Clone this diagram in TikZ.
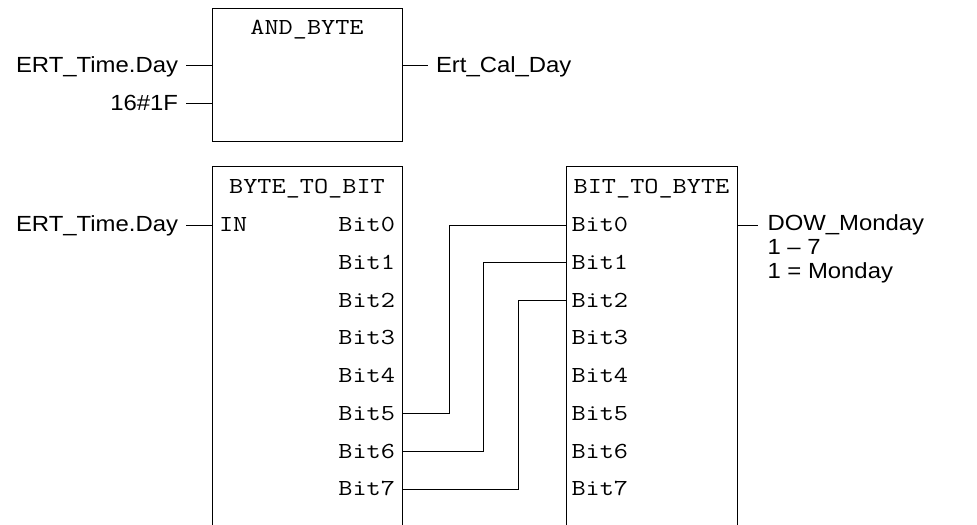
\documentclass[tikz,border=0pt]{standalone}
\usepackage{fontspec}
\setmainfont[FakeStretch=1.09]{Liberation Sans}
\newfontfamily\monof[FakeStretch=1.2]{Latin Modern Mono}
\begin{document}
\begin{tikzpicture}[x=1bp,y=-1bp,line width=0.9bp,
  fb/.style={draw,rectangle,inner sep=0,outer sep=0,anchor=north west},
  lbl/.style={font=\fontsize{22}{24}\selectfont,inner sep=0,outer sep=0},
  pintxt/.style={font=\monof\fontsize{23}{24}\selectfont,inner sep=0,outer sep=0}]
\clip (0,0) rectangle (977,525);
\useasboundingbox (0,0) rectangle (977,525);

% ---------- AND_BYTE ----------
\node[fb,minimum width=190bp,minimum height=132.5bp] (andb) at (212,8.5) {};
\node[pintxt,anchor=base] (andt) at (andb.north |- 0,35) {AND\_BYTE};
\coordinate (a1) at (186,65);
\coordinate (a2) at (186,103);
\coordinate (a3) at (428,65);
\draw (a1) -- (a1 -| andb.west);
\draw (a2) -- (a2 -| andb.west);
\draw (andb.east |- a3) -- (a3);
\node[lbl,anchor=base east] (la1) at (178,72.7) {ERT\_Time.Day};
\node[lbl,anchor=base east] (la2) at (178,110.7) {16\#1F};
\node[lbl,anchor=base west] (la3) at (436,72.7) {Ert\_Cal\_Day};

% ---------- BYTE_TO_BIT ----------
\node[fb,minimum width=190bp,minimum height=400bp] (btb) at (212,166.5) {};
\node[pintxt,anchor=base] (btbt) at (btb.north |- 0,193.5) {BYTE\_TO\_BIT};
\coordinate (bin) at (186,225);
\draw (bin) -- (bin -| btb.west);
\node[lbl,anchor=base east] (lbin) at (178,231.5) {ERT\_Time.Day};
\node[pintxt,anchor=base west] (pin) at (219,231.7) {IN};
\foreach \i in {0,...,7}{
  \node[pintxt,anchor=base east] (bo\i) at (395,231.7+37.75*\i) {Bit\i};
  \coordinate (s\i) at (402,225+37.75*\i);
}

% ---------- BIT_TO_BYTE ----------
\node[fb,minimum width=171bp,minimum height=400bp] (bty) at (566,166.5) {};
\node[pintxt,anchor=base] (btyt) at (bty.north |- 0,193.5) {BIT\_TO\_BYTE};
\foreach \i in {0,...,7}{
  \node[pintxt,anchor=base west] (bi\i) at (571.5,231.7+37.75*\i) {Bit\i};
  \coordinate (d\i) at (566,225+37.75*\i);
}
\coordinate (dout) at (758,225);
\draw (bty.east |- dout) -- (dout);
\node[lbl,anchor=north west,align=left] (ldout) at (767.5,214.3)
  {DOW\_Monday\\1 -- 7\\1 = Monday};

% ---------- connections ----------
\draw (s5) -- ++(47.3,0) |- (d0);
\draw (s6) -- ++(81.5,0) |- (d1);
\draw (s7) -- ++(116,0) |- (d2);
\end{tikzpicture}
\end{document}
